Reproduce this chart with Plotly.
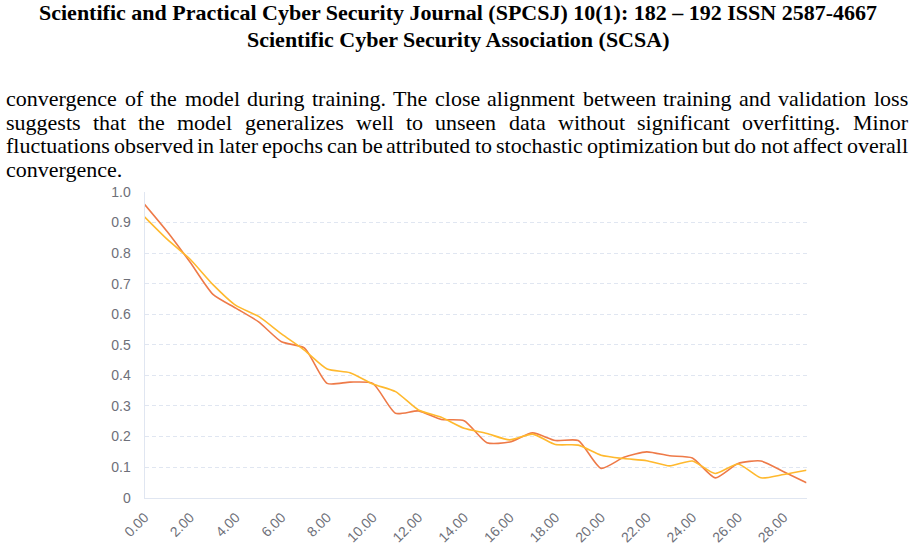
import plotly.graph_objects as go

# ---------------- data ----------------
epochs = list(range(30))
training_loss = [0.96, 0.87, 0.77, 0.665, 0.62, 0.575, 0.51, 0.49, 0.374, 0.378,
                 0.374, 0.276, 0.284, 0.256, 0.252, 0.18, 0.182, 0.212, 0.187, 0.187,
                 0.096, 0.132, 0.15, 0.137, 0.13, 0.065, 0.112, 0.12, 0.085, 0.049]
validation_loss = [0.919, 0.845, 0.78, 0.697, 0.629, 0.593, 0.536, 0.483, 0.421, 0.409,
                   0.372, 0.347, 0.287, 0.263, 0.227, 0.21, 0.189, 0.208, 0.174, 0.172,
                   0.139, 0.128, 0.121, 0.104, 0.12, 0.079, 0.11, 0.065, 0.076, 0.09]
x_tickvals = list(range(0, 29, 2))
x_ticktext = ["%.2f" % v for v in x_tickvals]
y_tickvals = [0, 0.1, 0.2, 0.3, 0.4, 0.5, 0.6, 0.7, 0.8, 0.9, 1.0]
y_ticktext = ["0", "0.1", "0.2", "0.3", "0.4", "0.5", "0.6", "0.7", "0.8", "0.9", "1.0"]

header_lines = ["Scientific and Practical Cyber Security Journal (SPCSJ) 10(1): 182 – 192 ISSN 2587-4667",
                "Scientific Cyber Security Association (SCSA)"]
body_lines = ["convergence of the model during training. The close alignment between training and validation loss",
              "suggests that the model generalizes well to unseen data without significant overfitting. Minor",
              "fluctuations observed in later epochs can be attributed to stochastic optimization but do not affect overall",
              "convergence."]

# ---------------- layout helpers ----------------
W, H = 915, 554
TIMES = {'a': .444, 'b': .5, 'c': .444, 'd': .5, 'e': .444, 'f': .333, 'g': .5, 'h': .5, 'i': .278,
         'j': .278, 'k': .5, 'l': .278, 'm': .778, 'n': .5, 'o': .5, 'p': .5, 'q': .5, 'r': .333,
         's': .389, 't': .278, 'u': .5, 'v': .5, 'w': .722, 'x': .5, 'y': .5, 'z': .444,
         '.': .25, ',': .25, 'T': .611, 'M': .889}


def word_w(word, size):
    return sum(TIMES.get(ch, .5) for ch in word) * size


def px_x(x):
    return x / W


def px_y(y):
    return 1 - y / H


FS = 22
BODY_FONT = dict(family="Liberation Serif", size=FS, color="#000000")
annotations = []

# header (centre y in px)
for text, cy in zip(header_lines, [12.5, 39.0]):
    annotations.append(dict(text="<b>%s</b>" % text, x=px_x(457.5), y=px_y(cy),
                            xref="paper", yref="paper", xanchor="center", yanchor="middle",
                            showarrow=False, borderpad=0, font=BODY_FONT))

# justified body text (centre y in px)
LEFT, RIGHT = 5.0, 907.0
centres = [98.5, 122.5, 146.0, 169.5]
for li, (text, cy) in enumerate(zip(body_lines, centres)):
    words = text.split(" ")
    widths = [word_w(w, FS) for w in words]
    if li < len(body_lines) - 1 and len(words) > 1:
        gap = (RIGHT - LEFT - sum(widths)) / (len(words) - 1)
    else:
        gap = 0.25 * FS
    xpos = LEFT
    for w, ww in zip(words, widths):
        annotations.append(dict(text=w, x=px_x(xpos), y=px_y(cy),
                                xref="paper", yref="paper", xanchor="left", yanchor="middle",
                                showarrow=False, borderpad=0, font=BODY_FONT))
        xpos += ww + gap

# ---------------- figure ----------------
fig = go.Figure()
fig.add_trace(go.Scatter(x=epochs, y=training_loss, mode="lines", name="Training loss",
                         line=dict(color="#EE7A48", width=1.6, shape="spline", smoothing=0.6),
                         showlegend=False))
fig.add_trace(go.Scatter(x=epochs, y=validation_loss, mode="lines", name="Validation loss",
                         line=dict(color="#FFB92E", width=1.6, shape="spline", smoothing=0.6),
                         showlegend=False))

X0, X1 = 144.5, 806.5
Y0, Y1 = 497.7, 192.0
TICK_FONT = dict(family="Liberation Sans", size=14, color="#6E7079")
fig.update_layout(
    width=W, height=H, margin=dict(l=0, r=0, t=0, b=0, pad=0),
    paper_bgcolor="white", plot_bgcolor="white",
    annotations=annotations,
    xaxis=dict(domain=[X0 / W, X1 / W], range=[0, 29], tickmode="array",
               tickvals=x_tickvals, ticktext=x_ticktext, tickangle=-45,
               showgrid=False, zeroline=False, showline=True, linecolor="#E0E6F1", linewidth=1,
               ticks="", ticklabelstandoff=5, automargin=False, tickfont=TICK_FONT),
    yaxis=dict(domain=[1 - Y0 / H, 1 - Y1 / H], range=[0, 1], tickmode="array",
               tickvals=y_tickvals, ticktext=y_ticktext,
               showgrid=True, gridcolor="#E0E6F1", gridwidth=1, griddash="4px,3px",
               zeroline=False, showline=True, linecolor="#E0E6F1", linewidth=1,
               ticks="", ticklabelstandoff=10, automargin=False, tickfont=TICK_FONT),
)

fig.write_html("out.html")
